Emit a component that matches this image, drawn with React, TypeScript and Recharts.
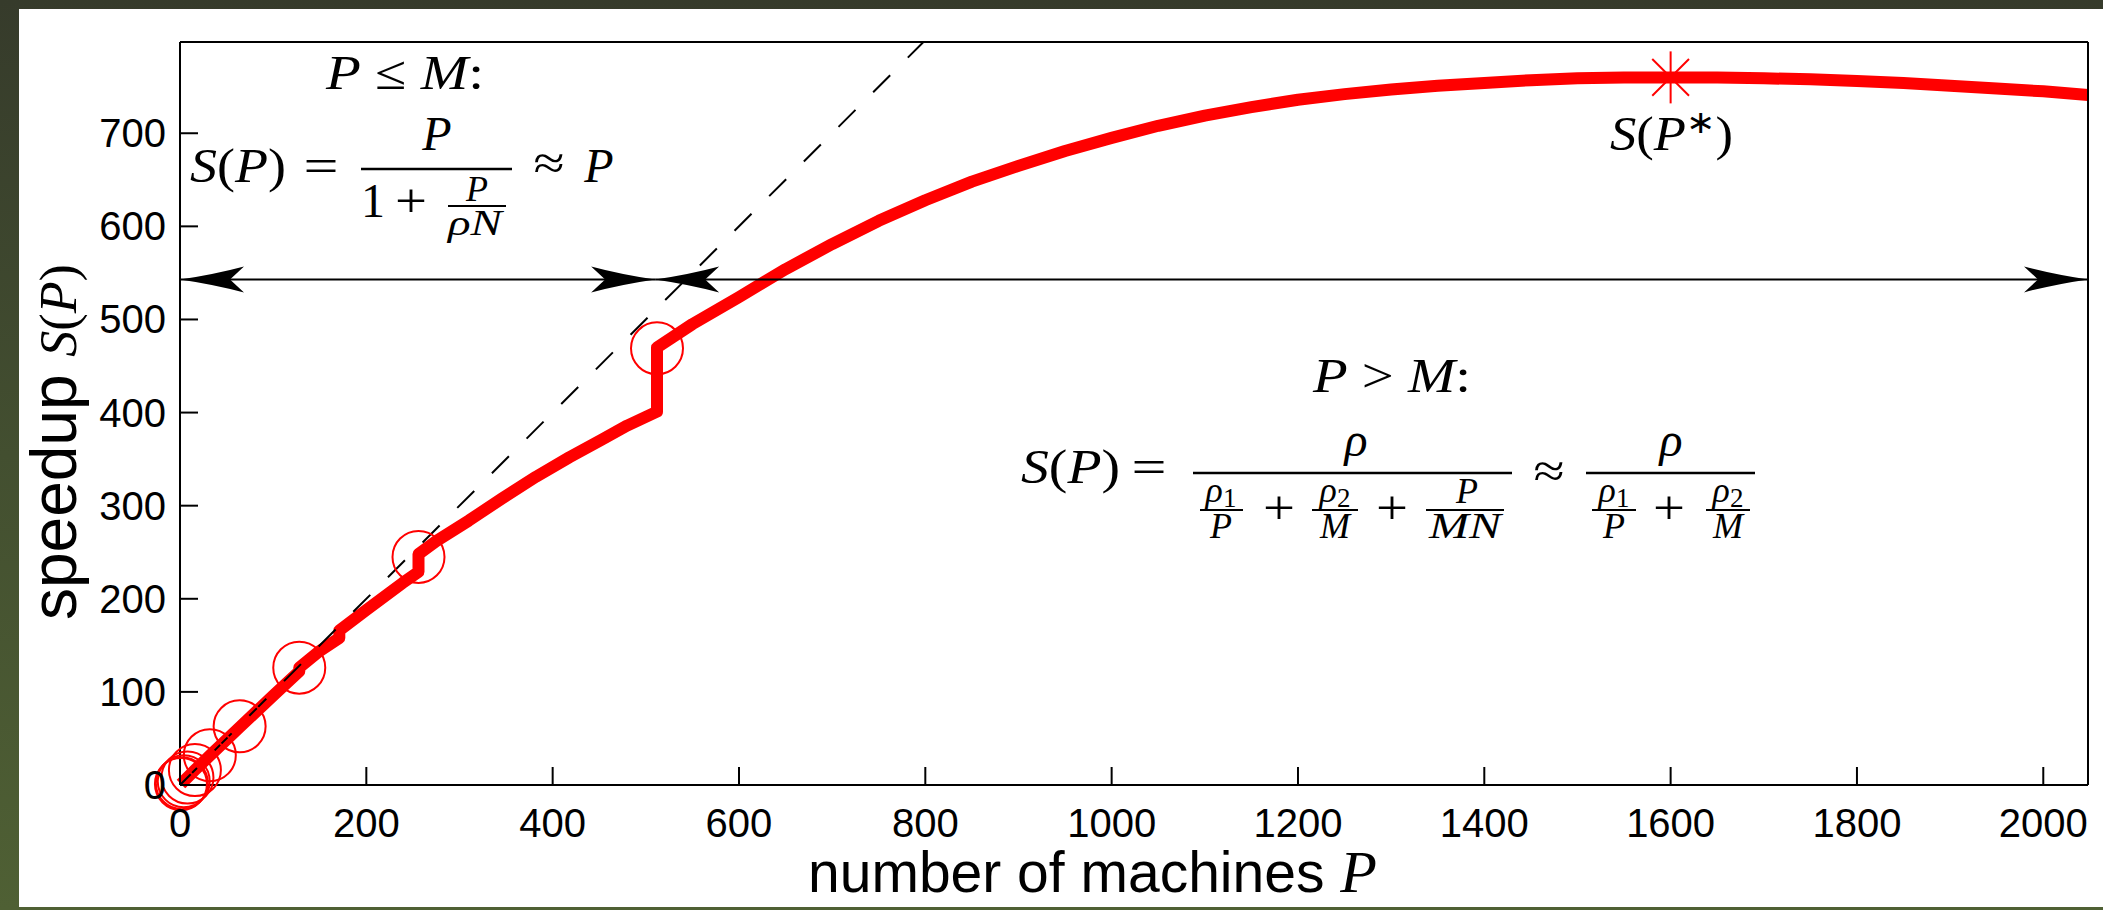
import React from "react";
import { ComposedChart, Line, Scatter, XAxis, YAxis } from "recharts";

// speedup curve (P, S(P)); repeated P = jump in the curve
const curveP = [
  1, 2, 4, 8, 16, 32, 64, 100, 128, 128, 150, 171, 171, 200, 239, 256, 256, 275, 310, 346, 382, 418, 453, 480, 512, 512,
  550, 600, 650, 700, 750, 800, 850, 900, 950, 1000, 1050, 1100, 1150, 1200, 1250, 1300, 1350, 1400, 1450, 1500, 1550,
  1600, 1650, 1700, 1750, 1800, 1850, 1900, 1950, 2000, 2048,
];
const curveS = [
  1, 2, 4, 8, 16, 31.5, 62, 96, 122, 126, 144, 158, 166, 188, 217, 229, 248, 262, 284, 308, 331, 352, 371, 386, 401, 470,
  495, 524, 554, 581, 606, 628, 648, 665, 681, 695, 708, 719, 728, 736, 742, 747, 751, 754, 757, 759, 760,
  760, 760, 759, 758, 756, 754, 751, 748, 745, 741,
];

// circled powers of two
const circleP = [1, 2, 4, 8, 16, 32, 64, 128, 256, 512];
const circleS = [1, 2, 4, 8, 16, 32, 63, 126, 245, 469];

// optimum S(P*)
const peakP = [1600];
const peakS = [760];

// ideal speedup S = P
const idealP = [0, 798];

// double arrows for the two regimes
const arrowLeftP = [0, 510];
const arrowRightP = [510, 2048];
const arrowS = 543;

const xTicks = [0, 200, 400, 600, 800, 1000, 1200, 1400, 1600, 1800, 2000];
const yTicks = [0, 100, 200, 300, 400, 500, 600, 700];

const zip = (xs: number[], ys: number[]) => xs.map((x, i) => ({ x, y: ys[i] }));
const curve = zip(curveP, curveS);
const circles = zip(circleP, circleS);
const peak = zip(peakP, peakS);
const ideal = zip(idealP, idealP);
const arrowA = arrowLeftP.map((x) => ({ x, y: arrowS }));
const arrowB = arrowRightP.map((x) => ({ x, y: arrowS }));

const SANS = "'Liberation Sans', Arial, sans-serif";
const SERIF = "'Liberation Serif', 'Times New Roman', serif";
const TICK = 18;

const BottomTick = ({ x, y, payload }: any) => (
  <g>
    <line x1={x} y1={y} x2={x} y2={y - TICK} stroke="#000" strokeWidth={2} />
    <text x={x} y={y + 52} textAnchor="middle" fontFamily={SANS} fontSize={40} fill="#000">
      {payload.value}
    </text>
  </g>
);

const LeftTick = ({ x, y, payload }: any) => (
  <g>
    <line x1={x} y1={y} x2={x + TICK} y2={y} stroke="#000" strokeWidth={2} />
    <text x={x - 14} y={y + 14} textAnchor="end" fontFamily={SANS} fontSize={40} fill="#000">
      {payload.value}
    </text>
  </g>
);

const TopTick = ({ x, y }: any) => <line x1={x} y1={y} x2={x} y2={y + TICK} stroke="#000" strokeWidth={2} />;
const RightTick = ({ x, y }: any) => <line x1={x} y1={y} x2={x - TICK} y2={y} stroke="#000" strokeWidth={2} />;

const Ring = ({ cx, cy }: any) => <circle cx={cx} cy={cy} r={26} fill="none" stroke="#ff0000" strokeWidth={2} />;

const Asterisk = ({ cx, cy }: any) => {
  const r = 26;
  const d = r * 0.707;
  return (
    <g stroke="#ff0000" strokeWidth={2}>
      <line x1={cx} y1={cy - r} x2={cx} y2={cy + r} />
      <line x1={cx - r} y1={cy} x2={cx + r} y2={cy} />
      <line x1={cx - d} y1={cy - d} x2={cx + d} y2={cy + d} />
      <line x1={cx - d} y1={cy + d} x2={cx + d} y2={cy - d} />
    </g>
  );
};

// arrowhead with concave flanks, tip on the data point
const headDot = (props: any) => {
  const { cx, cy, index } = props;
  const s = index === 0 ? -1 : 1;
  const L = 64;
  const w = 13;
  const d = `M ${cx} ${cy} Q ${cx - s * 34} ${cy - 5} ${cx - s * L} ${cy - w} L ${cx - s * 50} ${cy} L ${cx - s * L} ${cy + w} Q ${cx - s * 34} ${cy + 5} ${cx} ${cy} Z`;
  return <path key={`h${index}`} d={d} fill="#000" stroke="none" />;
};

const I = ({ children }: any) => <tspan fontStyle="italic">{children}</tspan>;

const M = ({ x, y, s = 48, a = "middle", w, children }: any) => (
  <text
    x={x}
    y={y}
    fontFamily={SERIF}
    fontSize={s}
    textAnchor={a}
    fill="#000"
    textLength={w}
    lengthAdjust={w ? "spacingAndGlyphs" : undefined}
  >
    {children}
  </text>
);

const Bar = ({ x1, x2, y, w = 2.4 }: any) => <line x1={x1} x2={x2} y1={y} y2={y} stroke="#000" strokeWidth={w} />;

const Sub = ({ n }: any) => (
  <>
    <I>ρ</I>
    <tspan fontSize={27} dy={5}>{n}</tspan>
  </>
);

const Annotations = () => (
  <svg width={2103} height={910} style={{ position: "absolute", left: 0, top: 0, pointerEvents: "none" }}>
    {/* P <= M */}
    <M x={326} y={89} a="start" w={158}>
      <I>P</I> ≤ <I>M</I>:
    </M>
    <M x={190} y={182} a="start" w={96}>
      <I>S</I>(<I>P</I>)
    </M>
    <M x={321} y={182} w={35}>=</M>
    <Bar x1={361} x2={512} y={169} />
    <M x={437} y={150}>
      <I>P</I>
    </M>
    <M x={373} y={217}>1</M>
    <M x={411} y={217} w={32}>+</M>
    <Bar x1={448} x2={506} y={206} w={2} />
    <M x={477} y={201} s={36}>
      <I>P</I>
    </M>
    <M x={475} y={235} s={36} w={54}>
      <I>ρN</I>
    </M>
    <M x={549} y={179} w={31}>≈</M>
    <M x={599} y={182}>
      <I>P</I>
    </M>

    {/* P > M */}
    <M x={1313} y={392} a="start" w={158}>
      <I>P</I> &gt; <I>M</I>:
    </M>
    <M x={1021} y={483} a="start" w={99}>
      <I>S</I>(<I>P</I>)
    </M>
    <M x={1149} y={483} w={35}>=</M>
    <Bar x1={1193} x2={1512} y={473} />
    <M x={1356} y={456}>
      <I>ρ</I>
    </M>
    <Bar x1={1200} x2={1243} y={510} w={2} />
    <M x={1221} y={502} s={36}>
      <Sub n="1" />
    </M>
    <M x={1221} y={538} s={36}>
      <I>P</I>
    </M>
    <M x={1279} y={524} w={32}>+</M>
    <Bar x1={1312} x2={1358} y={510} w={2} />
    <M x={1335} y={502} s={36}>
      <Sub n="2" />
    </M>
    <M x={1335} y={538} s={36}>
      <I>M</I>
    </M>
    <M x={1392} y={524} w={32}>+</M>
    <Bar x1={1426} x2={1504} y={510} w={2} />
    <M x={1467} y={503} s={36}>
      <I>P</I>
    </M>
    <M x={1465} y={538} s={36} w={72}>
      <I>MN</I>
    </M>
    <M x={1549} y={487} w={31}>≈</M>
    <Bar x1={1586} x2={1755} y={473} />
    <M x={1671} y={456}>
      <I>ρ</I>
    </M>
    <Bar x1={1592} x2={1636} y={510} w={2} />
    <M x={1614} y={502} s={36}>
      <Sub n="1" />
    </M>
    <M x={1614} y={538} s={36}>
      <I>P</I>
    </M>
    <M x={1669} y={524} w={32}>+</M>
    <Bar x1={1706} x2={1750} y={510} w={2} />
    <M x={1728} y={502} s={36}>
      <Sub n="2" />
    </M>
    <M x={1728} y={538} s={36}>
      <I>M</I>
    </M>

    {/* optimum label */}
    <M x={1610} y={150} a="start" w={123}>
      <I>S</I>(<I>P</I>
      <tspan fontSize={32} dy={-17}>∗</tspan>
      <tspan dy={17}>)</tspan>
    </M>

    {/* axis titles */}
    <text x={808} y={892} fontFamily={SANS} fontSize={57} fill="#000">
      number of machines{" "}
      <tspan fontFamily={SERIF} fontStyle="italic" fontSize={60}>
        P
      </tspan>
    </text>
    <text x={76} y={620} transform="rotate(-90 76 620)" fontFamily={SANS} fontSize={64} fill="#000">
      speedup{" "}
      <tspan fontFamily={SERIF} fontSize={52}>
        <tspan fontStyle="italic">S</tspan>(<tspan fontStyle="italic">P</tspan>)
      </tspan>
    </text>
  </svg>
);

export default function App() {
  return (
    <div
      style={{
        position: "absolute",
        left: 0,
        top: 0,
        width: 2103,
        height: 910,
        background: "linear-gradient(180deg, #363b2b 0%, #434f30 50%, #4f6034 100%)",
        overflow: "hidden",
      }}
    >
      <div style={{ position: "absolute", left: 19, top: 9, width: 2084, height: 898, background: "#ffffff" }} />
      <div style={{ position: "absolute", left: 0, top: 0 }}>
        <ComposedChart width={2103} height={910} margin={{ top: 22, right: 5, bottom: 65, left: 80 }}>
          <XAxis
            type="number"
            dataKey="x"
            domain={[0, 2048]}
            ticks={xTicks}
            height={60}
            tickLine={false}
            tickSize={0}
            tickMargin={0}
            axisLine={{ stroke: "#000", strokeWidth: 2 }}
            tick={<BottomTick />}
            interval={0}
          />
          <XAxis
            xAxisId="top"
            orientation="top"
            type="number"
            dataKey="x"
            domain={[0, 2048]}
            ticks={xTicks}
            height={20}
            tickLine={false}
            tickSize={0}
            tickMargin={0}
            axisLine={{ stroke: "#000", strokeWidth: 2 }}
            tick={<TopTick />}
            interval={0}
          />
          <YAxis
            type="number"
            dataKey="y"
            domain={[0, 798]}
            ticks={yTicks}
            width={100}
            tickLine={false}
            tickSize={0}
            tickMargin={0}
            axisLine={{ stroke: "#000", strokeWidth: 2 }}
            tick={<LeftTick />}
            interval={0}
          />
          <YAxis
            yAxisId="right"
            orientation="right"
            type="number"
            dataKey="y"
            domain={[0, 798]}
            ticks={yTicks}
            width={10}
            tickLine={false}
            tickSize={0}
            tickMargin={0}
            axisLine={{ stroke: "#000", strokeWidth: 2 }}
            tick={<RightTick />}
            interval={0}
          />
          <Line
            data={curve}
            dataKey="y"
            type="linear"
            stroke="#ff0000"
            strokeWidth={12}
            strokeLinejoin="round"
            dot={false}
            isAnimationActive={false}
          />
          <Line
            data={ideal}
            dataKey="y"
            type="linear"
            stroke="#000"
            strokeWidth={2}
            strokeDasharray="24 25"
            dot={false}
            isAnimationActive={false}
          />
          <Scatter data={circles} dataKey="y" shape={<Ring />} isAnimationActive={false} />
          <Scatter data={peak} dataKey="y" shape={<Asterisk />} isAnimationActive={false} />
          <Line data={arrowA} dataKey="y" stroke="#000" strokeWidth={2} dot={headDot} isAnimationActive={false} />
          <Line data={arrowB} dataKey="y" stroke="#000" strokeWidth={2} dot={headDot} isAnimationActive={false} />
        </ComposedChart>
      </div>
      <Annotations />
    </div>
  );
}
